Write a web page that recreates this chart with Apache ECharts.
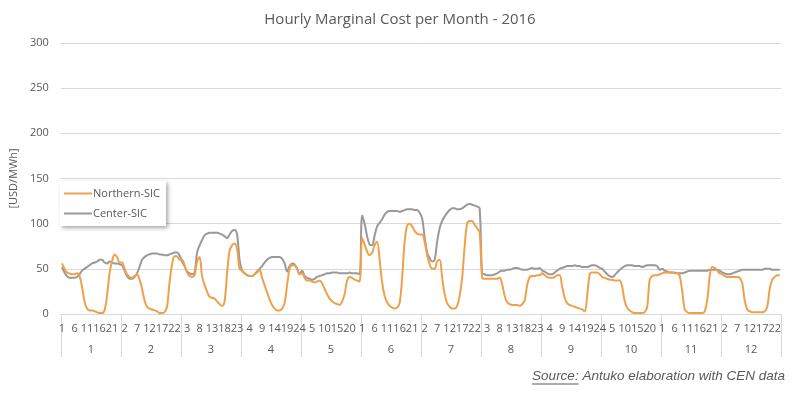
<!DOCTYPE html>
<html>
<head>
<meta charset="utf-8">
<script src="https://cdn.jsdelivr.net/npm/echarts@6/dist/echarts.min.js"></script>
<style>html,body{margin:0;padding:0;background:#fff;}#chart{width:800px;height:394px;}</style>
</head>
<body>
<div id="chart"></div>
<script>
const months = ['1','2','3','4','5','6','7','8','9','10','11','12'];
const hours = [1,2,3,4,5,6,7,8,9,10,11,12,13,14,15,16,17,18,19,20,21,22,23,24];
const yTicks = [0, 50, 100, 150, 200, 250, 300];

const northernSIC = [
  56,50,46,45,44,44,45,42,30,14,6,4,4,3,2,1,1,4,20,45,58,66,63,57,
  57,50,44,41,40,42,44,38,28,15,8,6,5,4,3,1,1,2,8,35,55,64,64,60,
  60,54,46,42,41,43,58,63,42,32,25,19,18,17,14,11,9,14,45,70,76,78,72,50,
  48,45,43,42,42,44,46,49,40,32,24,16,10,6,4,4,6,12,32,50,54,54,50,44,
  45,40,37,37,36,35,36,37,34,28,22,17,14,12,11,10,14,22,37,41,40,38,37,36,
  84,77,69,65,68,76,80,60,35,20,13,9,7,6,7,12,40,80,98,100,97,92,89,88,
  88,80,65,55,50,50,58,60,40,22,12,8,6,6,9,20,40,75,100,103,103,99,95,90,
  40,39,39,39,39,39,39,40,33,20,13,11,10,10,10,9,11,15,32,41,42,42,43,43,
  45,43,41,40,40,41,43,43,30,18,12,10,9,8,7,6,5,3,20,44,46,46,46,44,
  41,40,39,38,38,37,37,37,30,14,7,4,2,1,1,1,1,2,8,38,42,43,43,44,
  45,46,46,46,46,45,45,42,25,5,2,1,1,1,1,1,1,3,15,42,52,51,48,45,
  44,42,41,41,41,41,41,40,34,15,5,3,2,2,2,2,2,3,8,28,38,41,43,43
];
const centerSIC = [
  52,46,42,40,40,40,41,44,48,50,52,54,56,57,58,60,60,57,56,58,57,56,56,55,
  54,48,42,39,39,41,45,52,60,63,65,66,67,67,67,66,66,65,65,66,67,68,68,65,
  58,53,47,45,44,46,68,76,82,87,89,90,90,90,90,89,88,86,84,88,92,93,88,60,
  48,45,43,42,42,44,47,50,53,57,60,62,63,63,63,63,61,56,47,53,56,55,50,44,
  48,42,40,39,38,39,41,42,43,44,45,45,46,46,46,45,45,45,45,46,45,45,45,44,
  109,100,86,77,76,87,97,101,105,110,113,114,114,114,114,113,114,115,116,116,116,115,115,112,
  106,85,68,62,58,60,80,95,103,108,112,115,117,117,116,116,117,119,121,122,121,120,119,117,
  45,44,43,43,43,44,45,47,48,48,49,49,50,51,51,50,49,49,49,50,51,50,50,51,
  48,47,45,44,44,46,48,50,51,52,53,53,53,54,53,53,52,52,52,53,54,54,53,51,
  50,47,44,42,41,43,46,49,51,53,54,54,54,53,53,53,52,53,54,54,54,54,53,49,
  50,48,47,46,46,46,45,45,45,46,47,48,48,48,48,48,48,48,48,49,49,49,49,48,
  46,45,44,44,45,46,47,48,49,49,49,49,49,49,49,49,49,50,50,50,49,49,49,49
];

// category list: one entry per (month, hour)
const categories = [];
months.forEach(m => hours.forEach(h => categories.push(String(h))));

const textGray = '#595959';
const gridGray = '#D9D9D9';

const chart = echarts.init(document.getElementById('chart'));

// measure "Source:" width for underline
const srcFont = 'italic 13.5px "Liberation Sans"';
const ctx = document.createElement('canvas').getContext('2d');
ctx.font = srcFont;
const restText = ' Antuko elaboration with CEN data';
const wSource = ctx.measureText('Source:').width;
const wRest = ctx.measureText(restText).width;
const srcRight = 785;
const srcLeft = srcRight - wSource - wRest;
const srcY = 369;

chart.setOption({
  backgroundColor: '#fff',
  textStyle: { fontFamily: '"Open Sans", sans-serif' },
  title: {
    text: 'Hourly Marginal Cost per Month - 2016',
    left: 'center',
    top: 7,
    textStyle: { fontSize: 15, fontWeight: 'normal', color: textGray, fontFamily: '"Open Sans", sans-serif' }
  },
  grid: { left: 55, right: 19, top: 43, bottom: 80, containLabel: false },
  legend: {
    data: ['Northern-SIC', 'Center-SIC'],
    orient: 'vertical',
    left: 60,
    top: 181,
    backgroundColor: '#fff',
    shadowColor: 'rgba(0,0,0,0.35)',
    shadowBlur: 4,
    shadowOffsetX: 2,
    shadowOffsetY: 2,
    padding: [7, 6, 7, 4],
    itemGap: 9,
    itemWidth: 28,
    itemHeight: 2,
    icon: 'rect',
    textStyle: { fontSize: 11, color: textGray, padding: [0, 0, 0, -4] }
  },
  xAxis: [
    {
      type: 'category',
      data: categories,
      boundaryGap: true,
      axisLine: { show: true, lineStyle: { color: gridGray, width: 1 } },
      axisTick: { show: false },
      axisLabel: {
        interval: (idx) => idx % 5 === 0,
        fontSize: 11,
        color: textGray,
        margin: 9
      },
      splitLine: { show: false }
    },
    {
      type: 'category',
      data: months,
      position: 'bottom',
      boundaryGap: true,
      axisLine: { show: false },
      axisTick: { show: true, length: 43, interval: 0, lineStyle: { color: gridGray, width: 1 } },
      axisLabel: { interval: 0, fontSize: 11, color: textGray, margin: 30 },
      splitLine: { show: false }
    }
  ],
  yAxis: {
    type: 'value',
    min: yTicks[0],
    max: yTicks[yTicks.length - 1],
    interval: 50,
    name: '[USD/MWh]',
    nameLocation: 'middle',
    nameRotate: 90,
    nameGap: 34,
    nameTextStyle: { fontSize: 11, color: textGray },
    axisLine: { show: false },
    axisTick: { show: false },
    axisLabel: { fontSize: 11, color: textGray, margin: 12 },
    splitLine: { lineStyle: { color: gridGray, width: 1 } }
  },
  series: [
    {
      name: 'Northern-SIC',
      type: 'line',
      xAxisIndex: 0,
      data: northernSIC,
      smooth: 0.35,
      showSymbol: false,
      symbol: 'none',
      color: '#F0A04B',
      lineStyle: { width: 2, color: '#F0A04B' },
      z: 3
    },
    {
      name: 'Center-SIC',
      type: 'line',
      xAxisIndex: 0,
      data: centerSIC,
      smooth: 0.35,
      showSymbol: false,
      symbol: 'none',
      color: '#999999',
      lineStyle: { width: 2, color: '#999999' },
      z: 2
    }
  ],
  graphic: [
    {
      type: 'text',
      left: srcLeft,
      top: srcY,
      style: {
        text: '{u|Source:}{r|' + restText + '}',
        rich: {
          u: { font: srcFont, fill: textGray },
          r: { font: srcFont, fill: textGray }
        }
      }
    },
    {
      type: 'line',
      shape: { x1: srcLeft, y1: srcY + 15, x2: srcLeft + wSource, y2: srcY + 15 },
      style: { stroke: textGray, lineWidth: 1 }
    }
  ]
});
</script>
</body>
</html>
